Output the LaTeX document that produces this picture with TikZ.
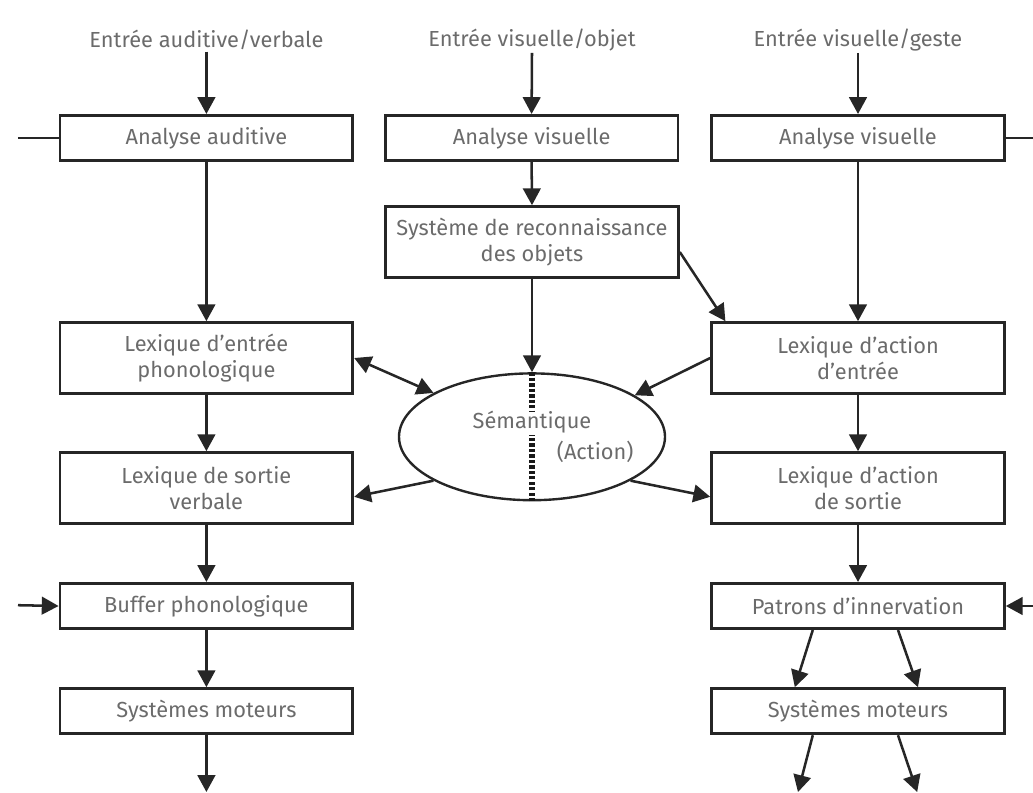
\documentclass[tikz,border=0pt]{standalone}
\usepackage{fontspec}
\setmainfont{Fira Sans}
\usetikzlibrary{arrows.meta,shapes.geometric}

\begin{document}
\begin{tikzpicture}[
    >={Triangle[length=4.2mm,width=4.4mm]},
    box/.style={
        draw=black!85,
        line width=2pt,
        rectangle,
        align=center,
        text=black!58,
        font=\fontsize{15.5}{19}\selectfont,
        minimum height=1.13cm,
        minimum width=7.32cm
    },
    tallbox/.style={box, minimum height=1.77cm},
    entry/.style={text=black!58, font=\fontsize{15.5}{19}\selectfont, inner sep=1pt},
    semantic/.style={draw=black!85, line width=1.7pt, ellipse, minimum width=6.65cm, minimum height=3.17cm},
    arrow/.style={->, line width=1.8pt, draw=black!85},
    dblarrow/.style={<->, line width=1.8pt, draw=black!85},
    feed/.style={line width=1.8pt, draw=black!85},
    dotline/.style={line width=3.6pt, dash pattern=on 2.4pt off 1.5pt, draw=black!90}
]
\useasboundingbox (0,0) rectangle (25.825,-19.825);

% ===== Inputs =====
\node[entry] (inaud) at (5.16,-1.0)  {Entrée auditive/verbale};
\node[entry] (inobj) at (13.3,-1.0)  {Entrée visuelle/objet};
\node[entry] (inges) at (21.45,-1.0) {Entrée visuelle/geste};

% ===== Left column =====
\node[box]     (aud)     at (5.16,-3.45)  {Analyse auditive};
\node[tallbox] (phonin)  at (5.16,-8.95)  {Lexique d’entrée\\phonologique};
\node[tallbox] (verbout) at (5.16,-12.2)  {Lexique de sortie\\verbale};
\node[box]     (buffer)  at (5.16,-15.15) {Buffer phonologique};
\node[box]     (motl)    at (5.16,-17.78) {Systèmes moteurs};

% ===== Middle column =====
\node[box]      (vismid) at (13.29,-3.45) {Analyse visuelle};
\node[tallbox]  (recog)  at (13.3,-6.05)  {Système de reconnaissance\\des objets};
\node[semantic] (sem)    at (13.3,-10.92) {};
\node[entry]    (semtxt) at (13.3,-10.55) {Sémantique};
\node[entry]    (acttxt) at (14.88,-11.3) {(Action)};

% ===== Right column =====
\node[box]     (visr)   at (21.45,-3.45)  {Analyse visuelle};
\node[tallbox] (actin)  at (21.45,-8.95)  {Lexique d’action\\d’entrée};
\node[tallbox] (actout) at (21.45,-12.2)  {Lexique d’action\\de sortie};
\node[box]     (innerv) at (21.45,-15.15) {Patrons d’innervation};
\node[box]     (motr)   at (21.45,-17.78) {Systèmes moteurs};

% ===== Free ends =====
\coordinate (auxl)  at (0.45,-3.45);
\coordinate (auxr)  at (25.825,-3.45);
\coordinate (bufl)  at (0.45,-15.13);
\coordinate (innr)  at (25.825,-15.15);
\coordinate (outl)  at (5.16,-19.8);
\coordinate (outr1) at (19.95,-19.8);
\coordinate (outr2) at (22.93,-19.8);

% ===== Left arrows =====
\draw[arrow] (inaud.south) -- (aud.north);
\draw[arrow] (aud.south) -- (phonin.north);
\draw[arrow] (phonin.south) -- (verbout.north);
\draw[arrow] (verbout.south) -- (buffer.north);
\draw[arrow] (buffer.south) -- (motl.north);
\draw[arrow] (motl.south) -- (outl);
\draw[feed]  (auxl) -- (aud.west);
\draw[arrow] (bufl) -- (buffer.west);

% ===== Middle arrows =====
\draw[arrow] (inobj.south) -- (vismid.north);
\draw[arrow] (vismid.south) -- (recog.north);
\draw[arrow] (recog.south) -- (sem.north);
\draw[arrow] ([yshift=-0.25cm]recog.east) -- ([xshift=0.38cm]actin.north west);
\draw[dotline] (sem.north) -- ++(0,-1.0);
\draw[dotline] (sem.south) -- ++(0,1.65);

% ===== Semantic links =====
\draw[dblarrow] (phonin.east) -- (sem.156);
\draw[arrow] (actin.west) -- (sem.22);
\draw[arrow] (sem.204) -- ([yshift=-0.22cm]verbout.east);
\draw[arrow] (sem.336) -- ([yshift=-0.22cm]actout.west);

% ===== Right arrows =====
\draw[arrow] (inges.south) -- (visr.north);
\draw[feed]  (visr.east) -- (auxr);
\draw[arrow] (visr.south) -- (actin.north);
\draw[arrow] (actin.south) -- (actout.north);
\draw[arrow] (actout.south) -- (innerv.north);
\draw[arrow] (innr) -- (innerv.east);
\draw[arrow] ([xshift=-1.13cm]innerv.south) -- ([xshift=-1.58cm]motr.north);
\draw[arrow] ([xshift=1.0cm]innerv.south) -- ([xshift=1.5cm]motr.north);
\draw[arrow] ([xshift=-1.13cm]motr.south) -- (outr1);
\draw[arrow] ([xshift=1.0cm]motr.south) -- (outr2);

\end{tikzpicture}
\end{document}
